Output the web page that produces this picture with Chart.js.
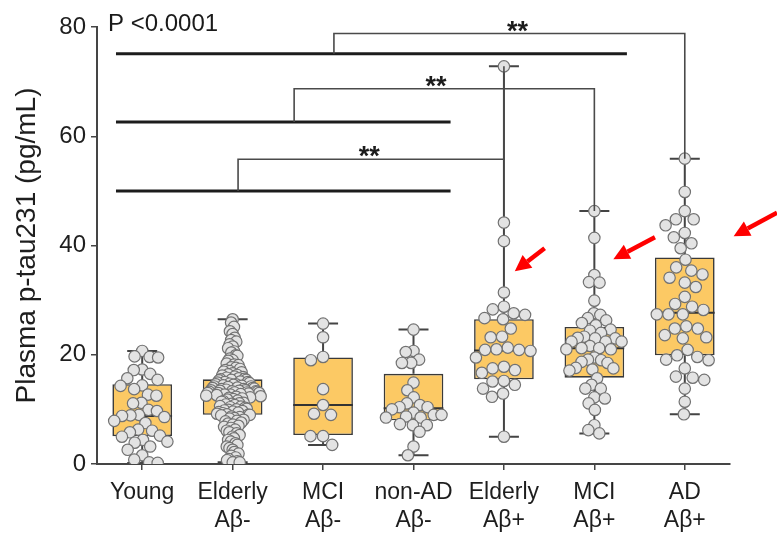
<!DOCTYPE html>
<html>
<head>
<meta charset="utf-8">
<script src="https://cdn.jsdelivr.net/npm/chart.js@4.4.1/dist/chart.umd.min.js"></script>
<style>
  html, body { margin: 0; padding: 0; background: #ffffff; }
  #wrap { width: 777px; height: 533px; position: relative; }
</style>
</head>
<body>
<div id="wrap"><canvas id="chart" width="777" height="533"></canvas></div>
<script>
// Group labels (two-line where needed)
const categories = [
  ['Young'], ['Elderly', 'Aβ-'], ['MCI', 'Aβ-'], ['non-AD', 'Aβ-'],
  ['Elderly', 'Aβ+'], ['MCI', 'Aβ+'], ['AD', 'Aβ+']
];
const yTicks = [0, 20, 40, 60, 80];

// Box-and-whisker summary per group (pg/mL)
const boxMin    = [0.2, 0.3, 3.5, 1.6, 5.0, 5.6, 9.1];
const boxQ1     = [5.1, 9.0, 5.3, 8.0, 15.5, 15.8, 19.9];
const boxMedian = [8.8, 13.0, 10.8, 10.2, 20.8, 21.2, 27.7];
const boxQ3     = [14.6, 15.5, 19.5, 16.5, 26.5, 25.1, 37.8];
const boxMax    = [20.7, 26.5, 25.7, 24.6, 72.8, 46.3, 55.9];

// Individual measurements per group (pg/mL)
const young = [20.7, 19.7, 19.6, 19.5, 17.3, 17.2, 16.5, 15.7, 15.4, 14.4, 14.3, 13.7, 12.7,
  12.5, 11.2, 11.1, 9.9, 9.7, 9.0, 8.9, 8.8, 8.6, 7.9, 7.5, 6.3, 6.1, 5.8, 5.2, 5.0, 4.4,
  4.1, 3.9, 3.2, 2.6, 1.6, 0.8, 0.3, 0.2];
const elderlyNeg = [26.5, 25.9, 25.1, 24.3, 23.8, 23.1, 22.7, 22.4, 21.9, 21.5, 21.2, 20.6,
  20.4, 19.9, 19.8, 19.3, 19.0, 18.9, 18.4, 18.2, 18.1, 17.7, 17.6, 17.4, 17.2, 17.0, 16.9,
  16.8, 16.6, 16.4, 16.3, 16.2, 16.0, 15.9, 15.8, 15.7, 15.6,
  15.5, 15.4, 15.4, 15.3, 15.1, 15.0, 15.0, 14.9, 14.8, 14.7, 14.6, 14.6, 14.5, 14.4, 14.3,
  14.2, 14.2, 14.1, 14.0, 13.9, 13.9, 13.8, 13.7, 13.7, 13.6, 13.5, 13.5, 13.4, 13.4, 13.3,
  13.3, 13.2, 13.2, 13.1, 13.1, 13.0, 13.0, 13.0,
  12.9, 12.8, 12.7, 12.7, 12.6, 12.5, 12.4, 12.3, 12.2, 12.1, 12.0, 11.9, 11.8, 11.6, 11.5,
  11.4, 11.2, 11.1, 11.0, 10.9, 10.8, 10.6, 10.5, 10.4, 10.3, 10.1, 10.0, 9.9, 9.8, 9.7, 9.6,
  9.5, 9.4, 9.3, 9.2, 9.1, 9.0, 9.0,
  8.9, 8.7, 8.6, 8.4, 8.3, 8.1, 7.9, 7.8, 7.6, 7.4, 7.2, 7.0, 6.8, 6.6, 6.3, 6.1, 5.8, 5.6,
  5.3, 5.0, 4.7, 4.4, 4.1, 3.8, 3.5, 3.2, 2.9, 2.6, 2.2, 1.9, 1.5, 1.2, 0.9, 0.7, 0.5, 0.3, 0.3];
const mciNeg = [25.7, 23.2, 19.6, 19.0, 13.7, 10.8, 9.2, 9.0, 5.1, 5.1, 3.5];
const nonAdNeg = [24.6, 20.7, 20.5, 19.1, 18.5, 18.5, 14.9, 13.5, 12.2, 11.1, 10.8, 10.4,
  10.4, 10.0, 9.4, 9.0, 9.0, 8.7, 8.5, 8.5, 7.3, 7.1, 7.1, 5.9, 3.2, 1.6];
const elderlyPos = [72.8, 44.2, 40.8, 31.4, 28.8, 28.3, 27.6, 27.3, 26.7, 26.5, 24.8, 23.3,
  23.2, 21.3, 21.0, 20.9, 20.9, 20.7, 19.5, 17.8, 17.5, 17.2, 16.7, 15.2, 15.1, 14.5, 13.8,
  12.9, 12.3, 5.0];
const mciPos = [46.3, 41.4, 34.6, 33.3, 33.2, 29.9, 27.6, 27.3, 26.7, 26.3, 25.8, 25.4, 24.6,
  24.4, 24.0, 23.3, 23.1, 23.0, 23.0, 22.4, 22.4, 22.4, 21.6, 21.2, 21.2, 21.0, 21.0, 19.5,
  19.1, 19.0, 18.7, 18.5, 17.6, 17.5, 17.3, 17.1, 15.7, 14.5, 13.8, 13.8, 12.2, 12.0, 11.1,
  9.9, 7.1, 6.2, 5.6];
const adPos = [55.9, 49.8, 46.3, 44.8, 44.8, 43.7, 42.3, 41.5, 40.4, 39.5, 37.4, 36.0, 35.4,
  34.7, 34.1, 33.2, 32.4, 30.6, 29.3, 28.8, 28.2, 27.4, 27.4, 27.4, 25.2, 24.8, 24.8, 23.6,
  23.2, 23.0, 20.9, 19.9, 19.6, 19.1, 19.0, 17.5, 16.0, 15.8, 15.4, 13.8, 11.4, 9.1];
const groupValues = [young, elderlyNeg, mciNeg, nonAdNeg, elderlyPos, mciPos, adPos];

// Comparison lines: thick reference bars and significance brackets (x in group index units)
const refBars = [
  { y: 50.0, from: -0.29, to: 3.41 },
  { y: 62.6, from: -0.29, to: 3.41 },
  { y: 75.1, from: -0.29, to: 5.36 }
];
const brackets = [
  { leftX: 1.06, base: 50.0, top: 55.8, group: 4, labelX: 2.51, label: '**' },
  { leftX: 1.68, base: 62.6, top: 68.7, group: 5, labelX: 3.25, label: '**' },
  { leftX: 2.12, base: 75.1, top: 78.8, group: 6, labelX: 4.15, label: '**' }
];
// Red pointer arrows: tail -> head (group index units, pg/mL)
const arrows = [
  { x1: 4.45, y1: 39.5, x2: 4.12, y2: 35.3 },
  { x1: 5.67, y1: 41.5, x2: 5.21, y2: 37.5 },
  { x1: 7.02, y1: 46.0, x2: 6.54, y2: 41.7 }
];
const pValueText = 'P <0.0001';

const FONT = "'Liberation Sans', Arial, Helvetica, sans-serif";
const AXIS_COLOR = '#454545';
const BOX_FILL = '#FCC964';

// Whiskers, caps and median lines drawn right after the boxes
const boxPartsPlugin = {
  id: 'boxParts',
  afterDatasetDraw(chart, args) {
    if (args.index !== 0) return;
    const ctx = chart.ctx;
    const y = chart.scales.y;
    const meta = chart.getDatasetMeta(0);
    ctx.save();
    ctx.lineCap = 'butt';
    meta.data.forEach((bar, i) => {
      const cx = bar.x;
      const half = bar.width / 2;
      const cap = 15;
      ctx.strokeStyle = '#444';
      ctx.lineWidth = 2;
      ctx.beginPath();
      ctx.moveTo(cx, y.getPixelForValue(boxQ3[i]));
      ctx.lineTo(cx, y.getPixelForValue(boxMax[i]));
      ctx.moveTo(cx, y.getPixelForValue(boxQ1[i]));
      ctx.lineTo(cx, y.getPixelForValue(boxMin[i]));
      ctx.moveTo(cx - cap, y.getPixelForValue(boxMax[i]));
      ctx.lineTo(cx + cap, y.getPixelForValue(boxMax[i]));
      ctx.moveTo(cx - cap, y.getPixelForValue(boxMin[i]));
      ctx.lineTo(cx + cap, y.getPixelForValue(boxMin[i]));
      ctx.stroke();
      ctx.strokeStyle = '#333';
      ctx.lineWidth = 2;
      ctx.beginPath();
      ctx.moveTo(cx - half, y.getPixelForValue(boxMedian[i]));
      ctx.lineTo(cx + half, y.getPixelForValue(boxMedian[i]));
      ctx.stroke();
    });
    ctx.restore();
  }
};

// Comparison bars, brackets, asterisks, p-value and arrows
const overlayPlugin = {
  id: 'overlay',
  afterDraw(chart) {
    const ctx = chart.ctx;
    const xs = chart.scales.x;
    const y = chart.scales.y;
    const X = v => xs.getPixelForValue(v);
    const Y = v => y.getPixelForValue(v);
    ctx.save();

    ctx.strokeStyle = '#1c1c1c';
    ctx.lineWidth = 3;
    refBars.forEach(b => {
      ctx.beginPath();
      ctx.moveTo(X(b.from), Y(b.y));
      ctx.lineTo(X(b.to), Y(b.y));
      ctx.stroke();
    });

    ctx.strokeStyle = '#4a4a4a';
    ctx.lineWidth = 1.6;
    brackets.forEach(b => {
      const rx = X(b.group);
      ctx.beginPath();
      ctx.moveTo(X(b.leftX), Y(b.base));
      ctx.lineTo(X(b.leftX), Y(b.top));
      ctx.lineTo(rx, Y(b.top));
      ctx.lineTo(rx, Y(boxMax[b.group]));
      ctx.stroke();
    });

    ctx.fillStyle = '#1c1c1c';
    ctx.font = 'bold 27px ' + FONT;
    ctx.textAlign = 'center';
    ctx.textBaseline = 'alphabetic';
    brackets.forEach(b => {
      ctx.fillText(b.label, X(b.labelX), Y(b.top) + 6);
    });

    ctx.fillStyle = '#1a1a1a';
    ctx.font = '24px ' + FONT;
    ctx.textAlign = 'left';
    ctx.fillText(pValueText, chart.chartArea.left + 11, chart.chartArea.top + 4);

    ctx.strokeStyle = '#ff0000';
    ctx.fillStyle = '#ff0000';
    ctx.lineWidth = 4.5;
    arrows.forEach(a => {
      const x1 = X(a.x1), y1 = Y(a.y1), x2 = X(a.x2), y2 = Y(a.y2);
      const ang = Math.atan2(y2 - y1, x2 - x1);
      const headLen = 16, headW = 8;
      const bx = x2 - headLen * Math.cos(ang), by = y2 - headLen * Math.sin(ang);
      ctx.beginPath();
      ctx.moveTo(x1, y1);
      ctx.lineTo(bx, by);
      ctx.stroke();
      ctx.beginPath();
      ctx.moveTo(x2, y2);
      ctx.lineTo(bx + headW * Math.sin(ang), by - headW * Math.cos(ang));
      ctx.lineTo(bx - headW * Math.sin(ang), by + headW * Math.cos(ang));
      ctx.closePath();
      ctx.fill();
    });
    ctx.restore();
  }
};

const chart = new Chart(document.getElementById('chart'), {
  type: 'bar',
  data: {
    datasets: [
      {
        type: 'bar',
        data: boxQ1.map((q1, i) => ({ x: i, y: [q1, boxQ3[i]] })),
        backgroundColor: BOX_FILL,
        borderColor: '#3a3a3a',
        borderWidth: 1.6,
        borderSkipped: false,
        categoryPercentage: 1,
        barPercentage: 0.66,
        order: 2
      },
      {
        type: 'scatter',
        data: [],
        pointRadius: 5.7,
        pointHoverRadius: 5.7,
        backgroundColor: '#e3e3e3',
        borderColor: '#727272',
        borderWidth: 1.2,
        order: 1
      }
    ]
  },
  options: {
    responsive: false,
    animation: false,
    events: [],
    layout: { padding: { top: 27, right: 47, left: 0, bottom: 0 } },
    plugins: { legend: { display: false }, tooltip: { enabled: false } },
    scales: {
      x: {
        type: 'linear',
        min: -0.5, max: 6.5,
        offset: false,
        afterBuildTicks: s => { s.ticks = categories.map((_, i) => ({ value: i })); },
        grid: { display: true, offset: false, drawOnChartArea: false, tickLength: 6, color: AXIS_COLOR, lineWidth: 1.5 },
        border: { display: true, color: AXIS_COLOR, width: 2 },
        ticks: { color: '#1e1e1e', padding: 9, maxRotation: 0, autoSkip: false,
                 callback: v => categories[v],
                 font: { family: FONT, size: 23, lineHeight: 1.2 } },
        afterFit: s => { s.height = 69; }
      },
      y: {
        min: 0, max: 80,
        afterBuildTicks: s => { s.ticks = yTicks.map(v => ({ value: v })); },
        grid: { display: true, drawOnChartArea: false, tickLength: 6, color: AXIS_COLOR, lineWidth: 1.5 },
        border: { display: true, color: AXIS_COLOR, width: 2 },
        ticks: { color: '#1e1e1e', padding: 5, font: { family: FONT, size: 24 } },
        title: { display: true, text: 'Plasma p-tau231 (pg/mL)', color: '#1e1e1e',
                 padding: { top: 10, bottom: 0 }, font: { family: FONT, size: 28 } },
        afterFit: s => { s.width = 97; }
      }
    }
  },
  plugins: [boxPartsPlugin, overlayPlugin]
});

// Beeswarm layout: spread points sideways so circles do not overlap, capped to the box width
function swarmOffsets(pix, d) {
  const order = pix.map((_, i) => i).sort((a, b) => pix[a] - pix[b]);
  const placed = [];
  const out = new Array(pix.length).fill(0);
  order.forEach(i => {
    const py = pix[i];
    const near = placed.filter(p => Math.abs(p.y - py) < d);
    const cands = [0];
    near.forEach(p => {
      const w = Math.sqrt(d * d - (p.y - py) * (p.y - py));
      cands.push(p.x - w - 0.01, p.x + w + 0.01);
    });
    cands.sort((a, b) => Math.abs(a) - Math.abs(b) || a - b);
    let x = 0;
    for (const c of cands) {
      if (near.every(p => (p.x - c) ** 2 + (p.y - py) ** 2 >= d * d - 0.05)) { x = c; break; }
    }
    placed.push({ x, y: py });
    out[i] = x;
  });
  return out;
}

(function placePoints() {
  const xs = chart.scales.x;
  const y = chart.scales.y;
  const unit = xs.getPixelForValue(1) - xs.getPixelForValue(0);
  const maxHalf = 28;
  const pts = [];
  groupValues.forEach((vals, g) => {
    const pix = vals.map(v => y.getPixelForValue(v));
    let off = swarmOffsets(pix, 12.6);
    const m = Math.max(...off.map(Math.abs));
    if (m > maxHalf) off = off.map(o => o * maxHalf / m);
    vals.forEach((v, k) => pts.push({ x: g + off[k] / unit, y: v }));
  });
  chart.data.datasets[1].data = pts;
  chart.update('none');
})();
</script>
</body>
</html>
